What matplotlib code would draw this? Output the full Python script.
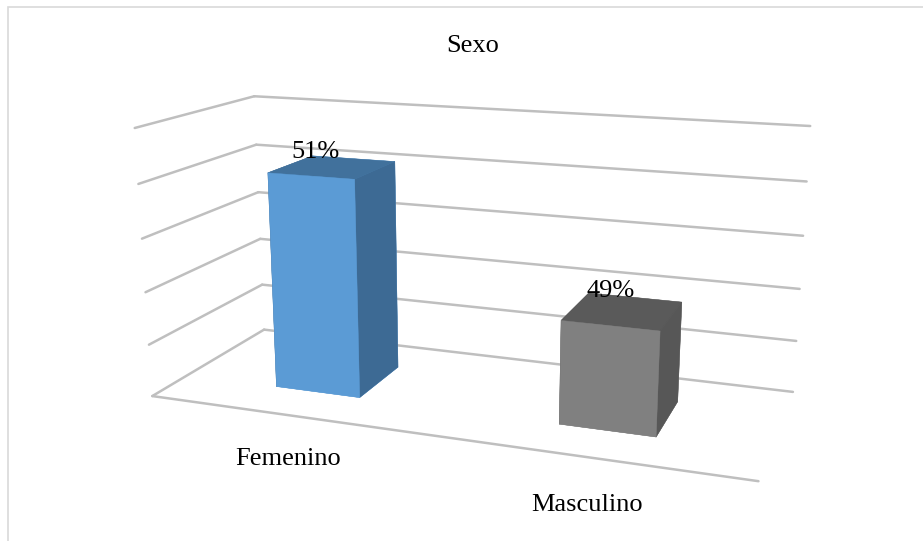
import matplotlib
matplotlib.use("Agg")
import matplotlib.pyplot as plt
import numpy as np

# ---- data ----
title = "Sexo"
categories = ["Femenino", "Masculino"]
values = [0.511, 0.489]
value_labels = ["51%", "49%"]
z_ticks = [0.47, 0.48, 0.49, 0.50, 0.51, 0.52]

front_colors = ["#5B9BD5", "#808080"]
top_colors = ["#41719C", "#5A5A5A"]
side_colors = ["#3D6A94", "#575757"]

plt.rcParams['font.family'] = ['Liberation Serif', 'DejaVu Serif']

W, H = 923, 541
fig = plt.figure(figsize=(W / 100, H / 100), dpi=100)
S = W
ax = fig.add_axes([0.0, (H - S) / 2 / H - 6 / H, 1.0, S / H], projection='3d')
ax.set_proj_type('persp', focal_length=0.27)
ax.view_init(elev=15, azim=-70)

zmin, zmax = z_ticks[0], z_ticks[-1]
n = len(categories)
ax.set_xlim(0, n)
ax.set_ylim(0, 1)
ax.set_zlim(zmin, zmax)
ax.set_box_aspect((2, 0.77, 0.9), zoom=1.28 * H / S)
ax.set_axis_off()

grid_kw = dict(color="#BFBFBF", lw=1.8, solid_capstyle='round')
for z in z_ticks:
    ax.plot([0, n], [1, 1], [z, z], **grid_kw)
    ax.plot([0, 0], [0, 1], [z, z], **grid_kw)
ax.plot([0, n], [0, 0], [zmin, zmin], **grid_kw)

bw = 0.31
bd = 0.42
xs = np.arange(n) + 0.5 - bw / 2
ys = np.full(n, 0.5 - bd / 2)
value_label_dx = [-0.145, -0.08]
for i in range(n):
    cols = [front_colors[i], top_colors[i], front_colors[i], front_colors[i],
            side_colors[i], side_colors[i]]
    ax.bar3d(xs[i], ys[i], zmin, bw, bd, values[i] - zmin,
             color=cols, shade=False, edgecolor=cols, linewidth=0.3)
    ax.text(i + 0.5 + value_label_dx[i], 0.5 + bd / 2, values[i] - 0.0014,
            value_labels[i], ha='center', va='bottom', fontsize=19, zorder=20)
    ax.text(i + 0.5, 0, zmin - 0.0085, categories[i], ha='center',
            va='center', fontsize=19, zorder=20)

fig.text(473 / W, 1 - 52 / H, title, ha='center', va='baseline', fontsize=19)

fig.patches.append(plt.Rectangle((8 / W, -0.1), 1.2, 1 - 7 / H + 0.1,
                                 transform=fig.transFigure, fill=False,
                                 edgecolor="#D9D9D9", lw=1.2))

fig.savefig("out.png", dpi=100)
